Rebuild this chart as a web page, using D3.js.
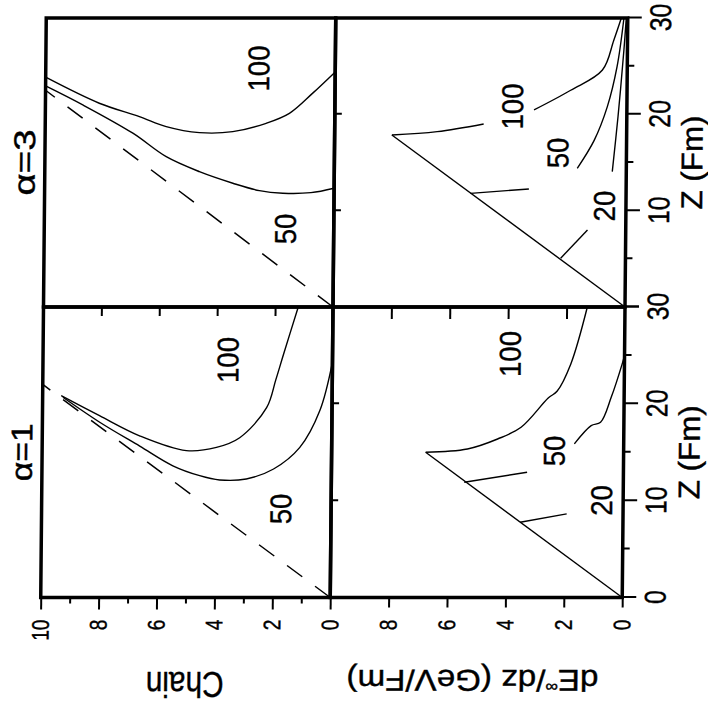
<!DOCTYPE html>
<html>
<head>
<meta charset="utf-8">
<script src="https://cdn.jsdelivr.net/npm/d3@7"></script>
<style>
  body { margin: 0; background: #fff; }
  svg { display: block; }
  text { stroke: #000; stroke-width: 0.4px; }
</style>
</head>
<body>
<div id="chart"></div>
<script>
// The figure is drawn upright and then turned a quarter (the scan is rotated)
const FIG_W = 709;
const FONT = '"Liberation Sans", Arial, sans-serif';
const colX = [111.5, 402, 691];
const rowY = [43.5, 333, 625];
const SKEW = -0.0095;   // scan is slightly sheared

const zMajor = [0, 10, 20, 30];
const zMinor = [5, 15, 25];
const chainMajor = [0, 2, 4, 6, 8, 10];
const chainMinor = [1, 3, 5, 7, 9];
const lossMajor = [0, 2, 4, 6, 8];
const innerV = [2, 4, 6, 8];
const innerZ = [10, 20];
const alphaTitles = ['α=1', 'α=3'];

// curves as [Z (Fm), value]
const a1ChainDiag = [[0, 0], [22, 10]];
const a1ChainE100 = [[20.85, 9.36], [18.78, 8.03], [16.7, 6.64], [15.17, 5.02], [15.5, 3.98], [16.5, 3.18], [19.6, 2.26], [22.5, 1.95], [25.15, 1.69], [30, 1.2]];
const a1ChainE50 = [[20.68, 9.3], [18.1, 8.02], [15.63, 6.63], [13.6, 5.48], [12.58, 4.55], [12.14, 3.86], [12.24, 2.94], [13.27, 2.0], [15.5, 1.1], [19.3, 0.42], [24.3, 0]];
const a1ChainLabels = [['100', 24.53, 3.25], ['50', 9.14, 1.38]];

const a3ChainDiag = [[0, 0], [22.5, 10]];
const a3ChainE100 = [[23.85, 10], [21.15, 8.14], [19.76, 6.75], [18.72, 5.82], [18.1, 4.67], [18.2, 3.52], [19.07, 2.37], [20.1, 1.57], [22.2, 0.77], [24.4, 0]];
const a3ChainE50 = [[22.95, 10], [20.98, 8.71], [18.04, 6.97], [15.6, 5.81], [14.05, 4.66], [12.85, 3.5], [12.08, 2.58], [11.81, 1.77], [11.87, 0.8], [12.33, 0]];
const a3ChainLabels = [['100', 24.76, 2.28], ['50', 8.1, 1.31]];

const a1LossRise = [[0, 0], [15.0, 6.78]];
const a1LossE100 = [[15.0, 6.78], [15.34, 5.35], [16.37, 4.32], [17.58, 3.52], [20.6, 2.6], [21.3, 2.3], [24.1, 1.84], [30, 1.29]];
const a1LossE50a = [[11.9, 5.45], [12.93, 3.3]];
const a1LossE50b = [[15.86, 1.69], [17.75, 1.12], [18.1, 0.8], [20.7, 0.44], [24.1, 0.08], [25, 0]];
const a1LossE20 = [[7.77, 3.52], [8.63, 1.93]];
const a1LossLabels = [['100', 25.15, 3.56], ['50', 15.13, 2.02], ['20', 10.02, 0.38]];

const a3LossRise = [[0, 0], [17.86, 8.04]];
const a3LossE100a = [[17.86, 8.04], [18.2, 6.49], [19.0, 4.9]];
const a3LossE100b = [[20.46, 3.18], [22.5, 1.93], [24.6, 0.85], [27.7, 0.47], [30, 0.22]];
const a3LossE50a = [[11.8, 5.33], [12.25, 3.33]];
const a3LossE50b = [[14.4, 1.68], [17.3, 1.11], [20.8, 0.67], [24.95, 0.35], [30, 0.13]];
const a3LossE20a = [[5.06, 2.22], [8.0, 1.31]];
const a3LossE20b = [[14.05, 0.48], [19.8, 0.3], [26.7, 0.12], [30, 0.05]];
const a3LossLabels = [['100', 20.81, 3.56], ['50', 15.99, 1.99], ['20', 10.48, 0.38]];

const panels = [
    { col: 0, row: 0, dashed: a1ChainDiag, lines: [a1ChainE100, a1ChainE50], labels: a1ChainLabels },
    { col: 1, row: 0, dashed: a3ChainDiag, lines: [a3ChainE100, a3ChainE50], labels: a3ChainLabels },
    { col: 0, row: 1, lines: [a1LossRise, a1LossE100, a1LossE50a, a1LossE50b, a1LossE20], labels: a1LossLabels },
    { col: 1, row: 1, lines: [a3LossRise, a3LossE100a, a3LossE100b, a3LossE50a, a3LossE50b, a3LossE20a, a3LossE20b], labels: a3LossLabels }
];

const zScales = [0, 1].map(i => d3.scaleLinear().domain([0, 30]).range([colX[i], colX[i + 1]]));
const vScales = [0, 1].map(i => d3.scaleLinear().domain([0, 10]).range([rowY[i + 1], rowY[i]]));

const svg = d3.select('#chart').append('svg')
    .attr('width', 708)
    .attr('height', 709);

const fig = svg.append('g')
    .attr('transform', `matrix(1,0,${SKEW},1,${-SKEW * 307},0) translate(0,${FIG_W}) rotate(-90)`);

function putText(x, y, str, size, sx, rot) {
    return fig.append('text')
        .attr('transform', `translate(${x},${y})${rot ? ` rotate(${rot})` : ''} scale(${sx},1)`)
        .attr('text-anchor', 'middle')
        .attr('font-family', FONT)
        .attr('font-size', size)
        .text(str);
}

function styleAxis(g, size, width) {
    g.select('.domain').remove();
    g.attr('font-family', FONT).attr('font-size', size);
    g.selectAll('line').attr('stroke-width', width);
}

// panels: curves first, frames on top
panels.forEach(p => {
    const zs = zScales[p.col], vs = vScales[p.row];
    const line = d3.line()
        .x(d => zs(d[0]))
        .y(d => vs(d[1]))
        .curve(d3.curveCatmullRom.alpha(0.5));

    if (p.dashed) {
        fig.append('path')
            .attr('d', d3.line().x(d => zs(d[0])).y(d => vs(d[1]))(p.dashed))
            .attr('fill', 'none')
            .attr('stroke', '#000')
            .attr('stroke-width', 1.5)
            .attr('stroke-dasharray', '19,16');
    }

    p.lines.forEach(pts => {
        fig.append('path')
            .attr('d', line(pts))
            .attr('fill', 'none')
            .attr('stroke', '#000')
            .attr('stroke-width', 1.4);
    });

    p.labels.forEach(([txt, z, v]) => putText(zs(z), vs(v), txt, 30, 0.92));
});

panels.forEach(p => {
    const zs = zScales[p.col], vs = vScales[p.row];
    fig.append('rect')
        .attr('x', zs(0)).attr('y', vs(10))
        .attr('width', zs(30) - zs(0)).attr('height', vs(0) - vs(10))
        .attr('fill', 'none')
        .attr('stroke', '#000')
        .attr('stroke-width', 3.5);
});

// Z axes along the bottom
zScales.forEach((zs, i) => {
    const major = fig.append('g')
        .attr('transform', `translate(0,${rowY[2]})`)
        .call(d3.axisBottom(zs).tickValues(zMajor).tickSize(14).tickPadding(8)
            .tickFormat(d => (i === 1 && d === 0) ? '' : d));
    styleAxis(major, 30, 2);
    major.selectAll('text').attr('transform', 'scale(0.83,1)');

    const minor = fig.append('g')
        .attr('transform', `translate(0,${rowY[2]})`)
        .call(d3.axisBottom(zs).tickValues(zMinor).tickSize(7).tickFormat(''));
    styleAxis(minor, 10, 2);

    // small ticks on the row boundary
    const inner = fig.append('g')
        .attr('transform', `translate(0,${rowY[1]})`)
        .call(d3.axisBottom(zs).tickValues(innerZ).tickSize(7).tickFormat(''));
    styleAxis(inner, 10, 2);

    putText(zs(15), rowY[2] + 76, 'Z (Fm)', 30, 0.97)
        .attr('textLength', 97).attr('lengthAdjust', 'spacingAndGlyphs');
    putText(zs(15), rowY[0] - 10, alphaTitles[i], 30, 1)
        .attr('textLength', i === 0 ? 58 : 66).attr('lengthAdjust', 'spacingAndGlyphs');
});

// value axes on the left
[[chainMajor, chainMinor, 12, 9], [lossMajor, [], 10, 12]].forEach(([major, minor, len, innerLen], r) => {
    const vs = vScales[r];
    const g = fig.append('g')
        .attr('transform', `translate(${colX[0]},0)`)
        .call(d3.axisLeft(vs).tickValues(major).tickSize(len).tickPadding(22 - len)
            .tickFormat(d => (r === 1 && d === 10) ? '' : d));
    styleAxis(g, 24, 2);
    g.selectAll('text').attr('transform', 'scale(0.8,1)').attr('x', -22 / 0.8);

    if (minor.length) {
        const m = fig.append('g')
            .attr('transform', `translate(${colX[0]},0)`)
            .call(d3.axisLeft(vs).tickValues(minor).tickSize(6).tickFormat(''));
        styleAxis(m, 10, 2);
    }

    // ticks on the column boundary, pointing into the alpha=1 panel
    const inner = fig.append('g')
        .attr('transform', `translate(${colX[1]},0)`)
        .call(d3.axisLeft(vs).tickValues(innerV).tickSize(innerLen).tickFormat(''));
    styleAxis(inner, 10, 2);
});

// row titles
putText(37, (rowY[0] + rowY[1]) / 2, 'Chain', 36, 1, -90)
    .attr('textLength', 78).attr('lengthAdjust', 'spacingAndGlyphs');

const lossTitle = putText(39, (rowY[1] + rowY[2]) / 2 - 3, '', 30, 1, -90)
    .attr('textLength', 252).attr('lengthAdjust', 'spacingAndGlyphs');
lossTitle.append('tspan').text('dE');
lossTitle.append('tspan').attr('font-size', 16).attr('dy', -12).text('∞');
lossTitle.append('tspan').attr('dy', 12).text('/dz  (GeV/Fm)');
</script>
</body>
</html>
